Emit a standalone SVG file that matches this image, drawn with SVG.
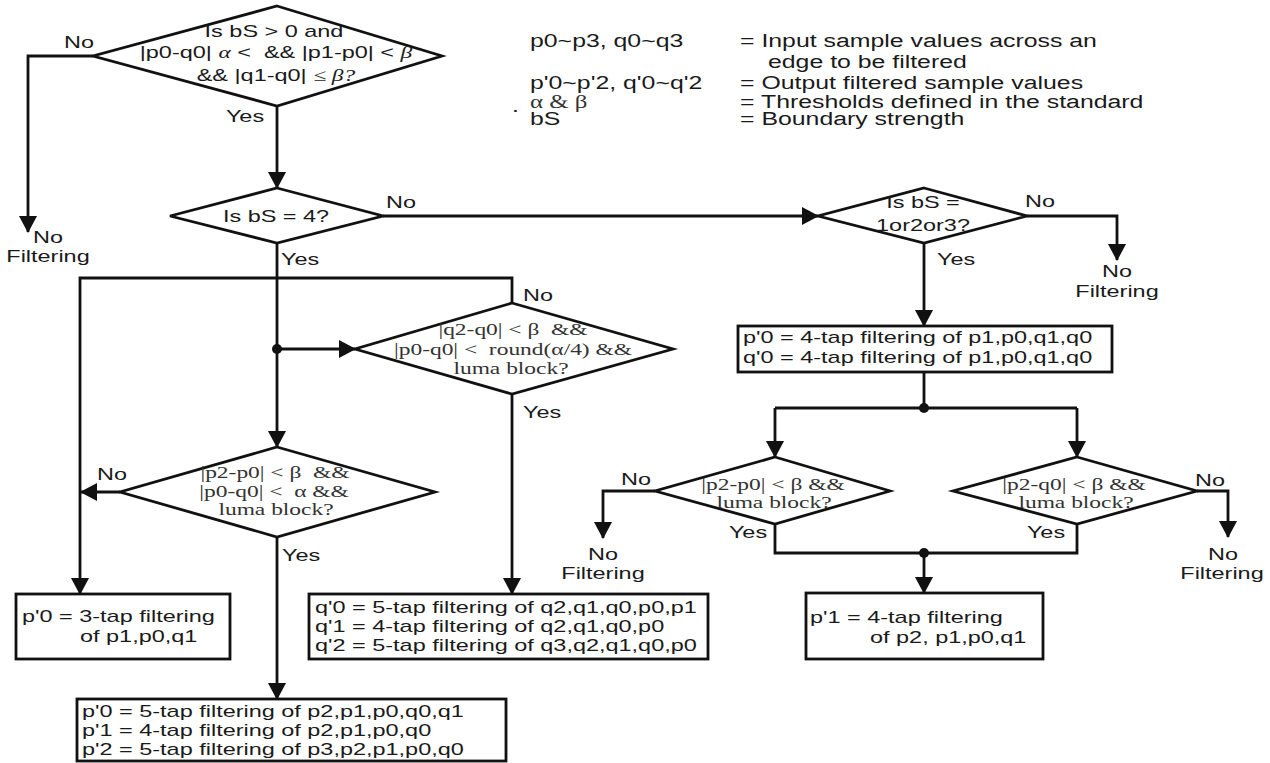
<svg xmlns="http://www.w3.org/2000/svg" width="1270" height="763" viewBox="0 0 1270 763">
<style>
.s{font-family:"Liberation Sans",Arial,sans-serif;font-size:17px;fill:#1a1a1a}
.r{font-family:"Liberation Serif","Times New Roman",serif;font-size:17px;fill:#333}
.g{font-family:"Liberation Serif","Times New Roman",serif;font-style:italic}
.m{text-anchor:middle}
.lg{font-size:18px}
.sh{fill:#fff;stroke:#111;stroke-width:2.8}
.ln{fill:none;stroke:#111;stroke-width:2.8}
.ar{marker-end:url(#ah)}
.dot{fill:#111}
</style>
<defs>
<marker id="ah" markerUnits="userSpaceOnUse" markerWidth="18" markerHeight="18" viewBox="0 0 18 18" refX="16" refY="9" orient="auto"><path d="M0,0 L17,9 L0,18 Z" fill="#111"/></marker>
</defs>

<g id="legend">
<text class="s lg" transform="matrix(1.38 0 0 1 530 47)">p0~p3, q0~q3</text>
<text class="s lg" transform="matrix(1.38 0 0 1 740 47)">= Input sample values across an</text>
<text class="s lg" transform="matrix(1.38 0 0 1 768 68)">edge to be filtered</text>
<text class="s lg" transform="matrix(1.38 0 0 1 530 89)">p'0~p'2, q'0~q'2</text>
<text class="s lg" transform="matrix(1.38 0 0 1 740 89)">= Output filtered sample values</text>
<text class="s lg" transform="matrix(1.38 0 0 1 512 112)">.</text>
<text class="r lg" transform="matrix(1.38 0 0 1 530 108)">α &amp; β</text>
<text class="s lg" transform="matrix(1.38 0 0 1 740 108)">= Thresholds defined in the standard</text>
<text class="s lg" transform="matrix(1.38 0 0 1 530 125)">bS</text>
<text class="s lg" transform="matrix(1.38 0 0 1 740 125)">= Boundary strength</text>
</g>

<g id="n-start">
<polygon class="sh" points="277,6 442,56 277,106 93,56"/>
<text class="s m" transform="matrix(1.38 0 0 1 274 37)">Is bS &gt; 0 and</text>
<text class="s m" transform="matrix(1.38 0 0 1 276 58)" xml:space="preserve">|p0-q0| <tspan class="g">α</tspan> &lt;  &amp;&amp; |p1-p0| &lt; <tspan class="g">β</tspan></text>
<text class="s m" transform="matrix(1.38 0 0 1 276 81)">&amp;&amp; |q1-q0| <tspan class="g">≤ β?</tspan></text>
</g>

<g id="n-bs4">
<polygon class="sh" points="277,188 383,216 277,243 170,216"/>
<text class="s m" transform="matrix(1.38 0 0 1 276 222)">Is bS = 4?</text>
</g>

<g id="n-bs123">
<polygon class="sh" points="924,188 1027,216 924,243 818,216"/>
<text class="s m" transform="matrix(1.38 0 0 1 923 208)">Is bS =</text>
<text class="s m" transform="matrix(1.38 0 0 1 923 231)">1or2or3?</text>
</g>

<g id="n-nf1">
<text class="s m" transform="matrix(1.38 0 0 1 48 243)">No</text>
<text class="s m" transform="matrix(1.38 0 0 1 48 262)">Filtering</text>
</g>
<g id="n-nf2">
<text class="s m" transform="matrix(1.38 0 0 1 1117 277)">No</text>
<text class="s m" transform="matrix(1.38 0 0 1 1117 297)">Filtering</text>
</g>
<g id="n-nf3">
<text class="s m" transform="matrix(1.38 0 0 1 603 560)">No</text>
<text class="s m" transform="matrix(1.38 0 0 1 603 579)">Filtering</text>
</g>
<g id="n-nf4">
<text class="s m" transform="matrix(1.38 0 0 1 1223 560)">No</text>
<text class="s m" transform="matrix(1.38 0 0 1 1222 579)">Filtering</text>
</g>

<g id="n-box4tap">
<rect class="sh" x="738" y="326" width="374" height="46"/>
<text class="s" transform="matrix(1.38 0 0 1 743 343)">p'0 = 4-tap filtering of p1,p0,q1,q0</text>
<text class="s" transform="matrix(1.38 0 0 1 743 363)">q'0 = 4-tap filtering of p1,p0,q1,q0</text>
</g>

<g id="n-q2">
<polygon class="sh" points="512,303 673,349 512,394 355,349"/>
<text class="r m" transform="matrix(1.38 0 0 1 513 335)" xml:space="preserve">|q2-q0| &lt; β  &amp;&amp;</text>
<text class="r m" transform="matrix(1.38 0 0 1 513 355)" xml:space="preserve">|p0-q0| &lt;  round(α/4) &amp;&amp;</text>
<text class="r m" transform="matrix(1.38 0 0 1 511 374)">luma block?</text>
</g>

<g id="n-p2p0a">
<polygon class="sh" points="277,447 435,492 277,537 120,492"/>
<text class="r m" transform="matrix(1.38 0 0 1 275 478)" xml:space="preserve">|p2-p0| &lt; β  &amp;&amp;</text>
<text class="r m" transform="matrix(1.38 0 0 1 274 497)" xml:space="preserve">|p0-q0| &lt;  α &amp;&amp;</text>
<text class="r m" transform="matrix(1.38 0 0 1 276 515)">luma block?</text>
</g>

<g id="n-p2p0b">
<polygon class="sh" points="775,457 890,491 775,524 655,491"/>
<text class="r m" transform="matrix(1.38 0 0 1 773 490)">|p2-p0| &lt; β &amp;&amp;</text>
<text class="r m" transform="matrix(1.38 0 0 1 774 508)">luma block?</text>
</g>

<g id="n-p2q0">
<polygon class="sh" points="1077,457 1197,491 1077,524 953,491"/>
<text class="r m" transform="matrix(1.38 0 0 1 1074 490)">|p2-q0| &lt; β &amp;&amp;</text>
<text class="r m" transform="matrix(1.38 0 0 1 1076 508)">luma block?</text>
</g>

<g id="n-box3tap">
<rect class="sh" x="16" y="594" width="214" height="65"/>
<text class="s" transform="matrix(1.38 0 0 1 22 622)">p'0 = 3-tap filtering</text>
<text class="s" transform="matrix(1.38 0 0 1 80 642)">of p1,p0,q1</text>
</g>

<g id="n-boxq">
<rect class="sh" x="309" y="594" width="399" height="65"/>
<text class="s" transform="matrix(1.38 0 0 1 315 613)">q'0 = 5-tap filtering of q2,q1,q0,p0,p1</text>
<text class="s" transform="matrix(1.38 0 0 1 315 632)">q'1 = 4-tap filtering of q2,q1,q0,p0</text>
<text class="s" transform="matrix(1.38 0 0 1 315 651)">q'2 = 5-tap filtering of q3,q2,q1,q0,p0</text>
</g>

<g id="n-boxp5">
<rect class="sh" x="77" y="699" width="429" height="62"/>
<text class="s" transform="matrix(1.38 0 0 1 82 717)">p'0 = 5-tap filtering of p2,p1,p0,q0,q1</text>
<text class="s" transform="matrix(1.38 0 0 1 82 736)">p'1 = 4-tap filtering of p2,p1,p0,q0</text>
<text class="s" transform="matrix(1.38 0 0 1 82 755)">p'2 = 5-tap filtering of p3,p2,p1,p0,q0</text>
</g>

<g id="n-boxp1">
<rect class="sh" x="806" y="593" width="237" height="66"/>
<text class="s" transform="matrix(1.38 0 0 1 810 623)">p'1 = 4-tap filtering</text>
<text class="s" transform="matrix(1.38 0 0 1 870 643)">of p2, p1,p0,q1</text>
</g>

<g id="connectors">
<path class="ln ar" d="M93,56 H28 V232"/>
<path class="ln ar" d="M277,106 V188"/>
<path class="ln ar" d="M383,216 H818"/>
<path class="ln ar" d="M1027,216 H1117 V260"/>
<path class="ln ar" d="M924,243 V326"/>
<path class="ln" d="M924,372 V408 M775,408 H1077"/>
<path class="ln ar" d="M775,408 V457"/>
<path class="ln ar" d="M1077,408 V457"/>
<path class="ln ar" d="M655,491 H603 V538"/>
<path class="ln ar" d="M1197,491 H1228 V537"/>
<path class="ln" d="M775,524 V553 H1077 V524"/>
<path class="ln ar" d="M924,553 V593"/>
<path class="ln ar" d="M277,243 V447"/>
<path class="ln ar" d="M277,349 H355"/>
<path class="ln ar" d="M512,303 V278 H80 V594"/>
<path class="ln ar" d="M120,492 H81"/>
<path class="ln ar" d="M512,394 V594"/>
<path class="ln ar" d="M277,537 V699"/>
<circle class="dot" cx="924" cy="408" r="5"/>
<circle class="dot" cx="924" cy="553" r="5"/>
<circle class="dot" cx="277" cy="349" r="5"/>
<text class="s m" transform="matrix(1.38 0 0 1 79 48)">No</text>
<text class="s m" transform="matrix(1.38 0 0 1 245 122)">Yes</text>
<text class="s m" transform="matrix(1.38 0 0 1 401 208)">No</text>
<text class="s" transform="matrix(1.38 0 0 1 281 265)">Yes</text>
<text class="s m" transform="matrix(1.38 0 0 1 1040 207)">No</text>
<text class="s" transform="matrix(1.38 0 0 1 937 265)">Yes</text>
<text class="s" transform="matrix(1.38 0 0 1 523 301)">No</text>
<text class="s" transform="matrix(1.38 0 0 1 523 418)">Yes</text>
<text class="s m" transform="matrix(1.38 0 0 1 112 480)">No</text>
<text class="s" transform="matrix(1.38 0 0 1 282 561)">Yes</text>
<text class="s m" transform="matrix(1.38 0 0 1 636 485)">No</text>
<text class="s m" transform="matrix(1.38 0 0 1 748 538)">Yes</text>
<text class="s m" transform="matrix(1.38 0 0 1 1210 486)">No</text>
<text class="s m" transform="matrix(1.38 0 0 1 1046 538)">Yes</text>
</g>
</svg>
